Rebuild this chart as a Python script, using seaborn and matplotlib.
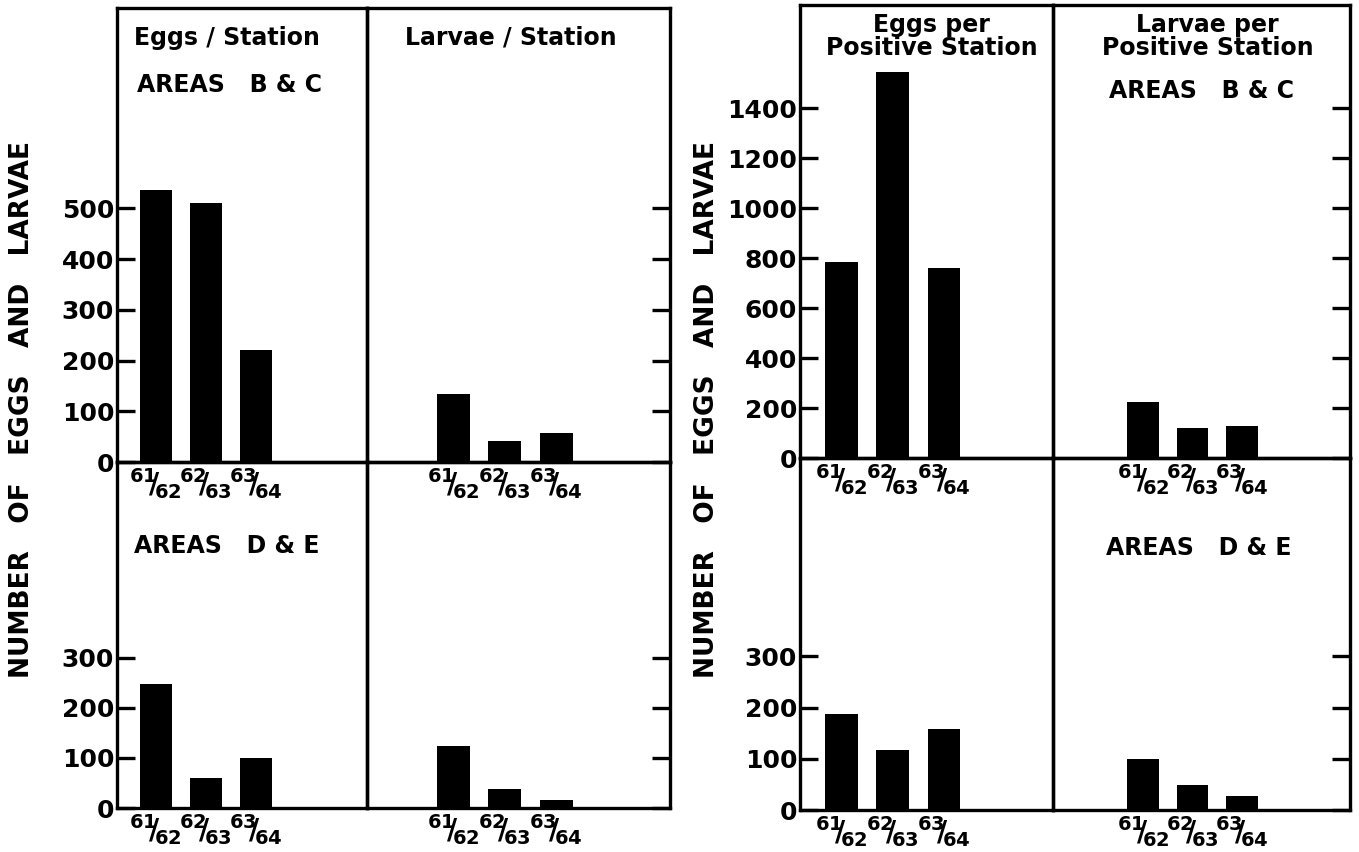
import numpy as np
import pandas as pd
import matplotlib
matplotlib.use("Agg")
import matplotlib.pyplot as plt
import seaborn as sns

# seasons and tick labels (stacked fraction style)
seasons = ["61/62", "62/63", "63/64"]
season_labels = [r"${}^{61}\!\!/\!_{62}$", r"${}^{62}\!\!/\!_{63}$", r"${}^{63}\!\!/\!_{64}$"]

# left figure: per station
eggs_station_bc = [537, 510, 220]
larvae_station_bc = [135, 42, 58]
eggs_station_de = [248, 60, 100]
larvae_station_de = [124, 37, 16]

# right figure: per positive station
eggs_pos_bc = [784, 1544, 760]
larvae_pos_bc = [224, 120, 128]
eggs_pos_de = [188, 118, 158]
larvae_pos_de = [100, 48, 27]

sns.set_style("white")
plt.rcParams['font.family'] = ['DejaVu Sans']
plt.rcParams['text.color'] = 'black'
plt.rcParams['xtick.color'] = 'black'
plt.rcParams['ytick.color'] = 'black'
plt.rcParams['mathtext.fontset'] = 'custom'
plt.rcParams['mathtext.rm'] = 'DejaVu Sans:bold'
plt.rcParams['mathtext.default'] = 'rm'

W, H = 1359, 852
fig = plt.figure(figsize=(W / 100, H / 100), dpi=100)
LW = 2.4


def px_axes(x0, y0, x1, y1):
    # pixel box (top-left origin) -> figure axes
    a = fig.add_axes([x0 / W, 1 - y1 / H, (x1 - x0) / W, (y1 - y0) / H])
    a.set_facecolor('none')
    return a


def draw(ax, values, ylim, yticks, xlim, side, show_labels):
    df = pd.DataFrame({'season': seasons, 'n': values})
    sns.barplot(data=df, x='season', y='n', ax=ax, color='black',
                saturation=1, width=0.64, edgecolor='black', linewidth=0)
    ax.set_xlim(*xlim)
    ax.set_ylim(*ylim)
    ax.set_xlabel('')
    ax.set_ylabel('')
    ax.set_xticks(range(len(seasons)))
    ax.set_xticklabels(season_labels, fontsize=20)
    ax.tick_params(axis='x', length=0, pad=3)
    ax.set_yticks(yticks)
    if side == 'left':
        ax.yaxis.tick_left()
    else:
        ax.yaxis.tick_right()
    ax.tick_params(axis='y', direction='in', length=13, width=LW,
                   labelleft=show_labels, labelright=False, labelsize=18, pad=2)
    for lab in ax.get_yticklabels():
        lab.set_fontweight('bold')
    for s in ax.spines.values():
        s.set_linewidth(LW)
        s.set_color('black')


txt = dict(ha='center', va='center', fontsize=17, fontweight='bold')
ylab = "NUMBER   OF   EGGS   AND   LARVAE"

# ---------- left figure ----------
ax = px_axes(117, 8, 367, 462)
draw(ax, eggs_station_bc, (0, 895), [0, 100, 200, 300, 400, 500], (-0.77, 4.23), 'left', True)
ax.text(0.44, 0.934, "Eggs / Station", transform=ax.transAxes, **txt)
ax.text(0.45, 0.83, "AREAS   B & C", transform=ax.transAxes, **txt)

ax = px_axes(367, 8, 670, 462)
draw(ax, larvae_station_bc, (0, 895), [0, 100, 200, 300, 400, 500], (-1.67, 4.21), 'right', False)
ax.text(0.475, 0.934, "Larvae / Station", transform=ax.transAxes, **txt)

ax = px_axes(117, 462, 367, 808)
draw(ax, eggs_station_de, (0, 690), [0, 100, 200, 300], (-0.77, 4.23), 'left', True)
ax.text(0.44, 0.758, "AREAS   D & E", transform=ax.transAxes, **txt)

ax = px_axes(367, 462, 670, 808)
draw(ax, larvae_station_de, (0, 690), [0, 100, 200, 300], (-1.67, 4.21), 'right', False)

fig.text(22 / W, 1 - 410 / H, ylab, rotation=90, ha='center', va='center',
         fontsize=19, fontweight='bold')

# ---------- right figure ----------
ax = px_axes(800, 5, 1053, 458)
draw(ax, eggs_pos_bc, (0, 1812), [0, 200, 400, 600, 800, 1000, 1200, 1400], (-0.8, 4.12), 'left', True)
ax.text(0.52, 0.93, "Eggs per\nPositive Station", transform=ax.transAxes,
        linespacing=0.95, **txt)

ax = px_axes(1053, 5, 1350, 458)
draw(ax, larvae_pos_bc, (0, 1812), [0, 200, 400, 600, 800, 1000, 1200, 1400], (-1.82, 4.18), 'right', False)
ax.text(0.52, 0.93, "Larvae per\nPositive Station", transform=ax.transAxes,
        linespacing=0.95, **txt)
ax.text(0.5, 0.81, "AREAS   B & C", transform=ax.transAxes, **txt)

ax = px_axes(800, 458, 1053, 810)
draw(ax, eggs_pos_de, (0, 687), [0, 100, 200, 300], (-0.8, 4.12), 'left', True)

ax = px_axes(1053, 458, 1350, 810)
draw(ax, larvae_pos_de, (0, 687), [0, 100, 200, 300], (-1.82, 4.18), 'right', False)
ax.text(0.49, 0.744, "AREAS   D & E", transform=ax.transAxes, **txt)

fig.text(707 / W, 1 - 410 / H, ylab, rotation=90, ha='center', va='center',
         fontsize=19, fontweight='bold')

fig.savefig("out.png", dpi=100, facecolor='white')
